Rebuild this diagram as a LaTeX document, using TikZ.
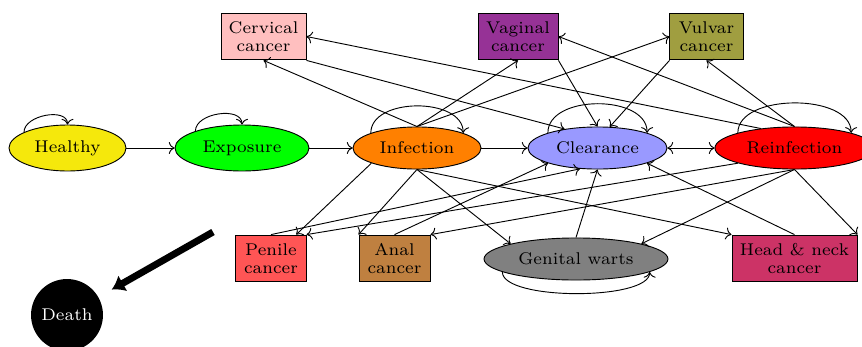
\documentclass[tikz,border=0pt]{standalone}
\usetikzlibrary{shapes.geometric,arrows.meta}
\definecolor{cHealthy}{RGB}{245,232,12}
\definecolor{cExposure}{RGB}{0,255,0}
\definecolor{cInfection}{RGB}{255,128,0}
\definecolor{cClearance}{RGB}{153,153,255}
\definecolor{cReinf}{RGB}{255,0,0}
\definecolor{cCervical}{RGB}{255,191,191}
\definecolor{cVaginal}{RGB}{150,50,150}
\definecolor{cVulvar}{RGB}{160,158,64}
\definecolor{cPenile}{RGB}{255,85,85}
\definecolor{cAnal}{RGB}{191,128,64}
\definecolor{cWarts}{RGB}{128,128,128}
\definecolor{cHead}{RGB}{204,51,102}
\begin{document}
\begin{tikzpicture}[x=0.435pt,y=0.435pt,font=\fontsize{7.4}{8}\selectfont,
  st/.style={ellipse,draw,inner sep=0pt,minimum height=18.3pt},
  cancer/.style={rectangle,draw,align=center,inner sep=0pt,minimum height=20.4pt},
  arr/.style={->},
  loopup/.style={->,out=90,in=90},
  bigarrow/.style={line width=3pt,-{Latex[length=5.5pt,width=8pt]}}]
\clip (0,0) rectangle (862,346);
% states
\node[st,fill=cHealthy,minimum width=50.9pt,minimum height=20pt] (Healthy) at (67.5,198) {Healthy};
\node[st,fill=cExposure,minimum width=58.3pt,minimum height=20pt] (Exposure) at (242,198) {Exposure};
\node[st,fill=cInfection,minimum width=55.7pt] (Infection) at (417,198) {Infection};
\node[st,fill=cClearance,minimum width=60.5pt] (Clearance) at (597.5,198) {Clearance};
\node[st,fill=cReinf,minimum width=69.2pt] (Reinfection) at (794.5,198) {Reinfection};
\node[st,fill=cWarts,minimum width=80pt] (Warts) at (576,87) {Genital warts};
% cancers
\node[cancer,fill=cCervical,minimum width=37pt] (Cervical) at (263.5,309.5) {Cervical\\cancer};
\node[cancer,fill=cVaginal,minimum width=34.8pt] (Vaginal) at (518,309.5) {Vaginal\\cancer};
\node[cancer,fill=cVulvar,minimum width=31.8pt] (Vulvar) at (706.5,309.5) {Vulvar\\cancer};
\node[cancer,fill=cPenile,minimum width=30.5pt] (Penile) at (271,87.5) {Penile\\cancer};
\node[cancer,fill=cAnal,minimum width=30.9pt] (Anal) at (394.5,87.5) {Anal\\cancer};
\node[cancer,fill=cHead,minimum width=54.4pt] (Head) at (794.5,87.5) {Head \& neck\\cancer};
\node[circle,fill=black,text=white,inner sep=0pt,minimum size=31.3pt] (Death) at (67,31) {Death};
\coordinate (dstart) at (213,114);
% main chain
\draw[arr] (Healthy) -- (Exposure);
\draw[arr] (Exposure) -- (Infection);
\draw[arr] (Infection) -- (Clearance);
\draw[<->] (Clearance) -- (Reinfection);
% loops
\draw[loopup] (Healthy.160) to (Healthy.north);
\draw[loopup] (Exposure.160) to (Exposure.north);
\draw[loopup] (Infection.162) to (Infection.18);
\draw[loopup] (Clearance.163) to (Clearance.17);
\draw[loopup,looseness=0.9] (Reinfection.165) to (Reinfection.15);
\draw[->,out=-90,in=-90,looseness=0.5] (Warts.190) to (Warts.-10);
% top cancers
\draw[arr] (Infection.north) -- (Cervical.south);
\draw[arr] (Reinfection.150) -- (Cervical.east);
\draw[arr] (Cervical.south east) -- (Clearance.150);
\draw[arr] (Infection.north) -- (Vaginal.south);
\draw[arr] (Reinfection.north) -- (Vaginal.east);
\draw[arr] (Vaginal.south east) -- (Clearance.north);
\draw[arr] (Infection.north) -- (Vulvar.west);
\draw[arr] (Reinfection.north) -- (Vulvar.south);
\draw[arr] (Vulvar.south west) -- (Clearance.60);
% bottom cancers
\draw[arr] (Infection.south west) -- (Penile);
\draw[arr] (Reinfection.south west) -- (Penile.north east);
\draw[arr] (Penile.north) -- (Clearance.230);
\draw[arr] (Infection.south) -- (Anal.north west);
\draw[arr] (Reinfection.south) -- (Anal.north east);
\draw[arr] (Anal.north) -- (Clearance.south west);
\draw[arr] (Infection.south) -- (Warts.north west);
\draw[arr] (Reinfection.south) -- (Warts.north east);
\draw[arr] (Warts.north) -- (Clearance.south);
\draw[arr] (Infection.south) -- (Head.north west);
\draw[arr] (Reinfection.south) -- (Head.north east);
\draw[arr] (Head.north) -- (Clearance.south east);
% death
\draw[bigarrow,shorten >=6.5pt] (dstart) -- (Death);
\end{tikzpicture}
\end{document}
